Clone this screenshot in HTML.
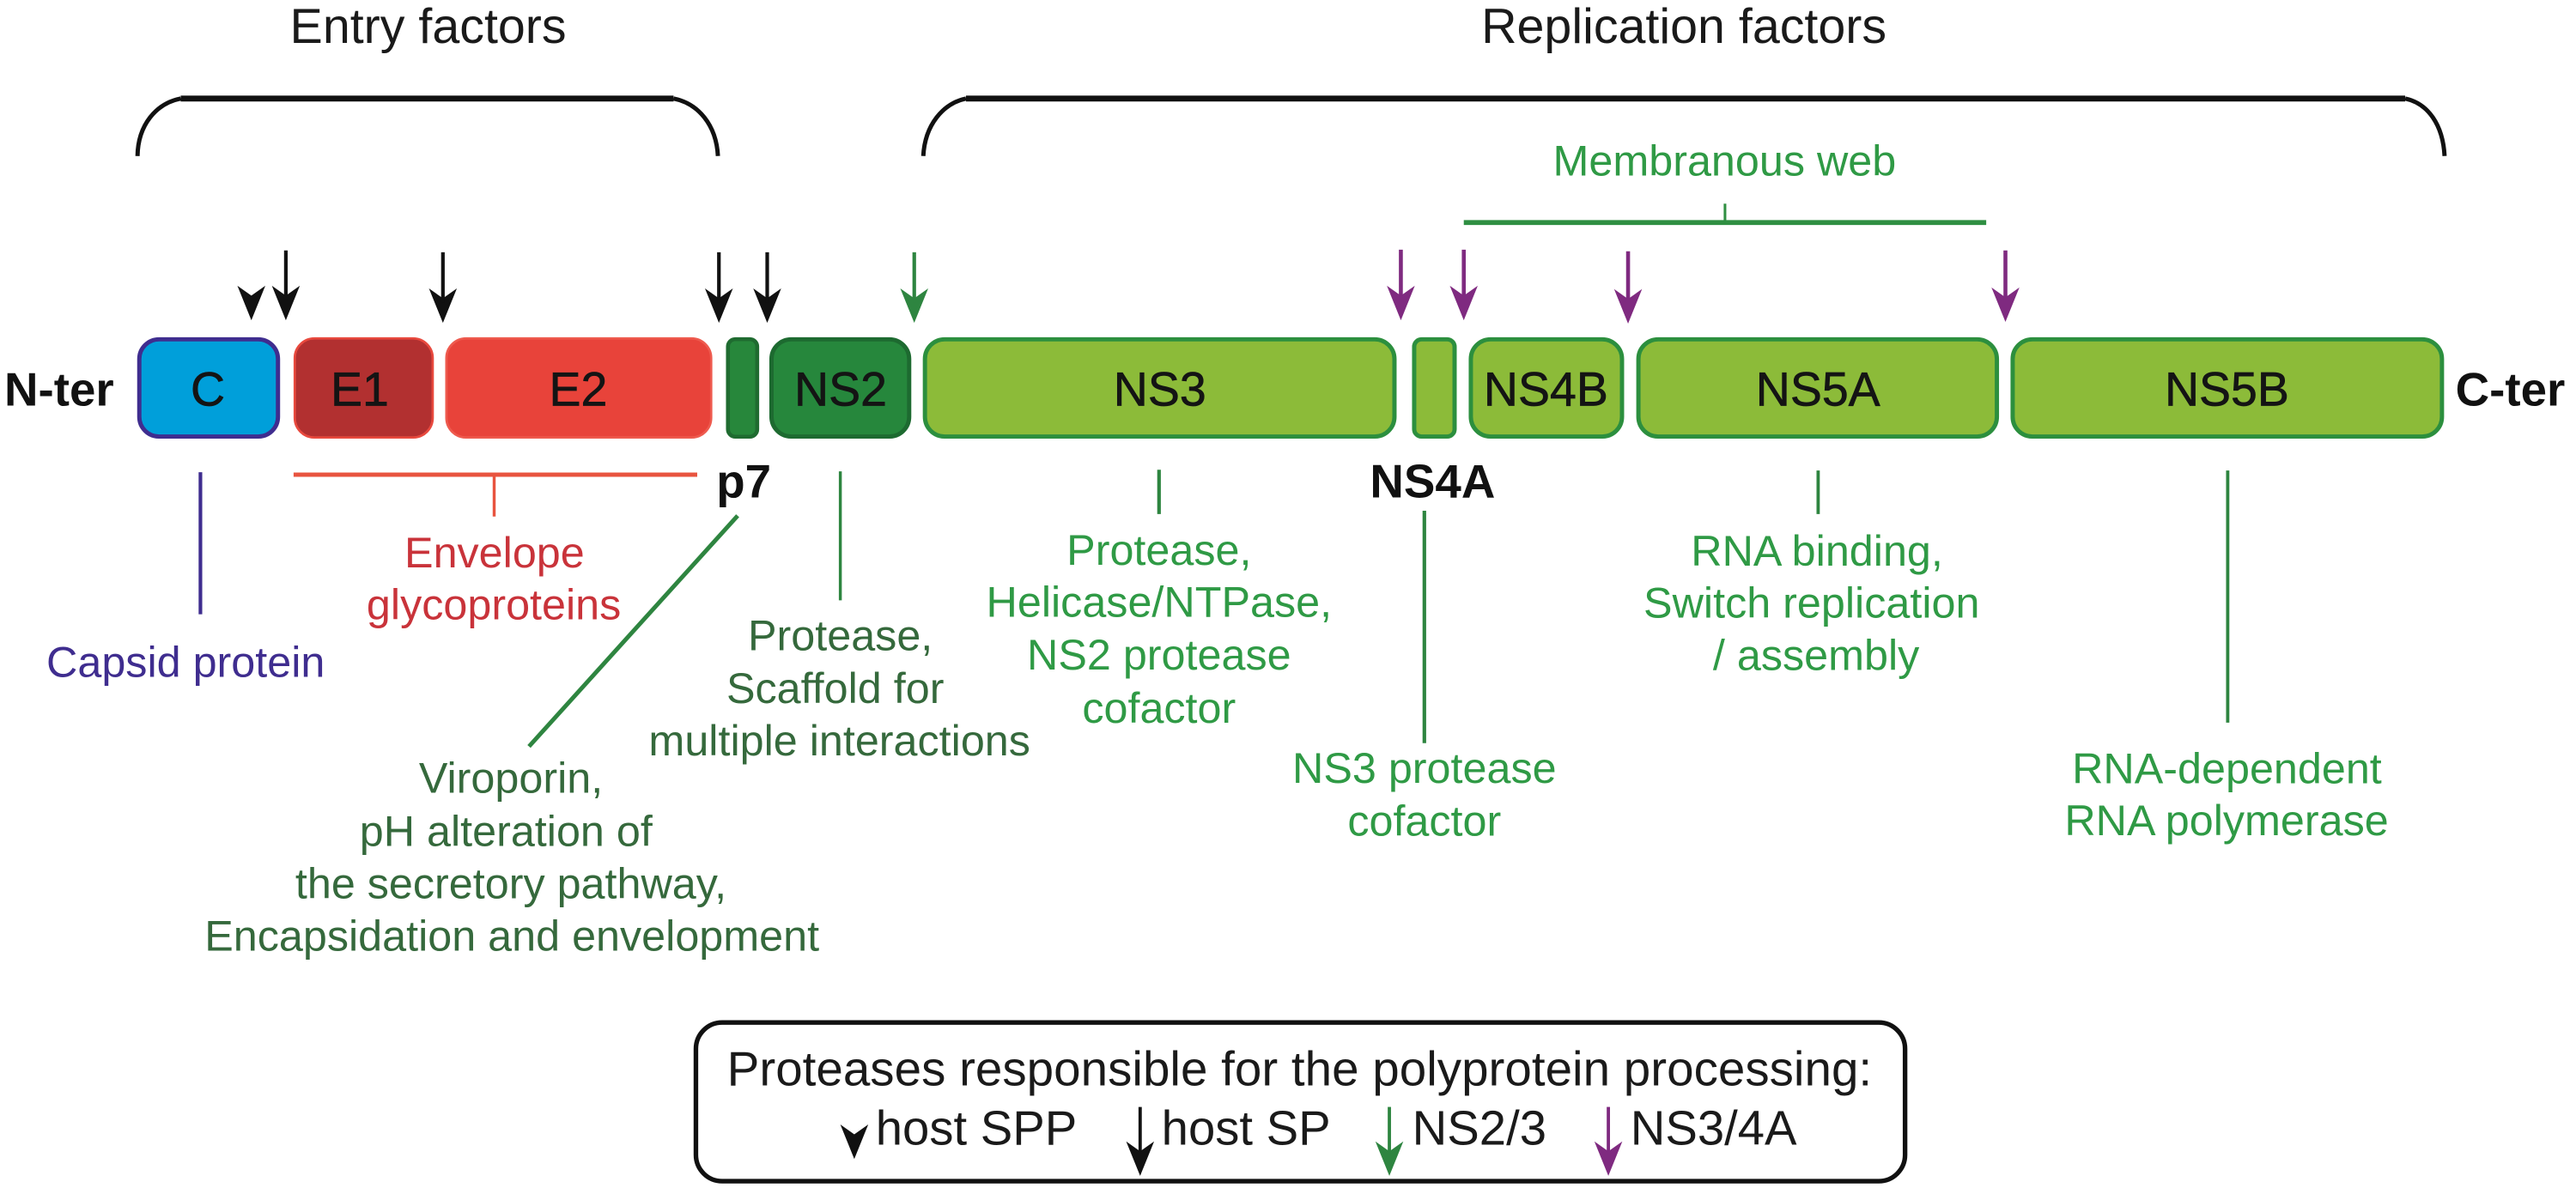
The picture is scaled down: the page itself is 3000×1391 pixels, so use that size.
<!DOCTYPE html>
<html><head><meta charset="utf-8"><style>
html,body{margin:0;padding:0;background:#fff}
svg{display:block}
text{font-family:"Liberation Sans",Arial,sans-serif;font-size:26.3px;text-anchor:middle}
.t{font-size:30px;fill:#1a1a1a}
.x{font-size:29px;fill:#141414;stroke:#141414;stroke-width:.35px}
.b{font-weight:bold;fill:#111;font-size:28.6px}
.k{fill:#1a1a1a;font-size:29.4px}
.g{fill:#2f9a45}
.d{fill:#35693c}
.r{fill:#c9333a}
</style></head><body>
<svg width="3000" height="1391" viewBox="0 0 1568 727" xmlns="http://www.w3.org/2000/svg">
<defs>
<path id="h" d="M-8.5,-21 L0,-15 L8.5,-21 L0,0 Z"/>
</defs>
<text class="t" x="260.6" y="26">Entry factors</text>
<text class="t" x="1025" y="26">Replication factors</text>
<path d="M110,60 H410 M588,60 H1464" fill="none" stroke="#111" stroke-width="3.6"/>
<path d="M83.7,95 C84,76 95,63 110,60 M410,60 C425,63 436,76 437,95 M562,95 C563,76 574,63 588,60 M1464,60 C1478,63 1487,76 1488,95" fill="none" stroke="#111" stroke-width="2.6"/>

<text class="g" x="1049.7" y="107">Membranous web</text>
<path d="M891,135.5 H1209" stroke="#2f8f42" stroke-width="3" fill="none"/>
<path d="M1050,124 V135" stroke="#2f8f42" stroke-width="1.6" fill="none"/>

<!-- arrows -->
<g fill="#111" stroke="none">
<use href="#h" x="153" y="195"/>
<use href="#h" x="174" y="195"/>
<use href="#h" x="269.6" y="196.6"/>
<use href="#h" x="437.6" y="196.6"/>
<use href="#h" x="467" y="196.6"/>
<path d="M174,152.5 V182 M269.6,153.6 V184 M437.6,153.6 V184 M467,153.6 V184" stroke="#111" stroke-width="2.2"/>
</g>
<g fill="#2e8540">
<use href="#h" x="556.5" y="196.6"/>
<path d="M556.5,153.6 V184" stroke="#2e8540" stroke-width="2.2"/>
</g>
<g fill="#7f2a80">
<use href="#h" x="852.7" y="195"/>
<use href="#h" x="891" y="195"/>
<use href="#h" x="991" y="197"/>
<use href="#h" x="1220.7" y="196"/>
<path d="M852.7,152 V182 M891,152 V182 M991,153 V184 M1220.7,152.5 V183" stroke="#7f2a80" stroke-width="2.4"/>
</g>

<!-- boxes -->
<rect x="84.8" y="206.6" width="84.4" height="59.2" rx="12" fill="#009fda" stroke="#3f2d8f" stroke-width="2.6"/>
<rect x="179.4" y="206" width="84" height="60.4" rx="12" fill="#b23030" stroke="#e8493e" stroke-width="1.4"/>
<rect x="271.7" y="206" width="161.2" height="60.4" rx="12" fill="#e8433a" stroke="#ee5a4e" stroke-width="1.4"/>
<rect x="443.1" y="206.5" width="17.8" height="59.4" rx="4.5" fill="#27873b" stroke="#1f6b30" stroke-width="2.4"/>
<rect x="469.6" y="206.6" width="83.8" height="59.2" rx="12" fill="#26873c" stroke="#1d6a30" stroke-width="2.6"/>
<g fill="#8cbb39" stroke="#2c8f3e" stroke-width="2.6">
<rect x="563" y="206.6" width="285.8" height="59.2" rx="12"/>
<rect x="860.8" y="206.6" width="24.6" height="59.2" rx="4.5"/>
<rect x="895.3" y="206.6" width="92" height="59.2" rx="12"/>
<rect x="997.3" y="206.6" width="218.2" height="59.2" rx="12"/>
<rect x="1225.1" y="206.6" width="261.3" height="59.2" rx="12"/>
</g>
<text class="b" x="36" y="247">N-ter</text>
<text class="b" x="1528" y="247">C-ter</text>
<text class="x" x="126.5" y="247">C</text>
<text class="x" x="219" y="247">E1</text>
<text class="x" x="352" y="247">E2</text>
<text class="x" x="511.7" y="247">NS2</text>
<text class="x" x="706" y="247">NS3</text>
<text class="x" x="941" y="247">NS4B</text>
<text class="x" x="1106.6" y="247">NS5A</text>
<text class="x" x="1355.5" y="247">NS5B</text>
<text class="b" x="452.7" y="303">p7</text>
<text class="b" x="872" y="303">NS4A</text>

<!-- connectors -->
<path d="M122,287.5 V374" stroke="#3f2d8f" stroke-width="2.2"/>
<path d="M178.7,289 H424.4" stroke="#e8543f" stroke-width="2.6"/>
<path d="M300.8,289 V314.5" stroke="#e8543f" stroke-width="1.8"/>
<path d="M449,314 L322,454.5" stroke="#2e8540" stroke-width="2.6"/>
<path d="M511.5,287 V365.5" stroke="#2e8540" stroke-width="1.8"/>
<path d="M705.5,286 V313" stroke="#2e8540" stroke-width="2.2"/>
<path d="M867,311 V452.5" stroke="#2e8540" stroke-width="2.2"/>
<path d="M1106.7,286.5 V313" stroke="#2e8540" stroke-width="2"/>
<path d="M1356,286.5 V440" stroke="#2e8540" stroke-width="2"/>

<!-- labels -->
<text style="fill:#3f2d8f" x="113" y="412">Capsid protein</text>
<text class="r" x="301" y="345.5">Envelope</text>
<text class="r" x="300.6" y="377">glycoproteins</text>
<text class="d" x="511.5" y="396">Protease,</text>
<text class="d" x="508.4" y="428">Scaffold for</text>
<text class="d" x="511" y="460">multiple interactions</text>
<text class="d" x="311" y="482.8">Viroporin,</text>
<text class="d" x="308" y="515">pH alteration of</text>
<text class="d" x="311" y="547">the secretory pathway,</text>
<text class="d" x="311.6" y="578.8">Encapsidation and envelopment</text>
<text class="g" x="705.5" y="343.8">Protease,</text>
<text class="g" x="705.5" y="375.6">Helicase/NTPase,</text>
<text class="g" x="705.5" y="407.7">NS2 protease</text>
<text class="g" x="705.5" y="440">cofactor</text>
<text class="g" x="867" y="476.6">NS3 protease</text>
<text class="g" x="867" y="508.7">cofactor</text>
<text class="g" x="1106" y="344.5">RNA binding,</text>
<text class="g" x="1102.7" y="376">Switch replication</text>
<text class="g" x="1105.5" y="408">/ assembly</text>
<text class="g" x="1355.5" y="477">RNA-dependent</text>
<text class="g" x="1355.3" y="508.6">RNA polymerase</text>

<!-- legend -->
<rect x="423.6" y="622.6" width="736" height="96.6" rx="16" fill="#fff" stroke="#111" stroke-width="2.8"/>
<text class="k" x="791" y="661" textLength="697" lengthAdjust="spacingAndGlyphs">Proteases responsible for the polyprotein processing:</text>
<text class="k" x="533" y="697" style="text-anchor:start">host SPP</text>
<text class="k" x="707" y="697" style="text-anchor:start">host SP</text>
<text class="k" x="859.6" y="697" style="text-anchor:start">NS2/3</text>
<text class="k" x="992.4" y="697" style="text-anchor:start">NS3/4A</text>
<use href="#h" x="520" y="705.7" fill="#111"/>
<path d="M694,674 V704" stroke="#111" stroke-width="2"/>
<use href="#h" x="694" y="716" fill="#111"/>
<path d="M845.7,674 V704" stroke="#2e8540" stroke-width="2"/>
<use href="#h" x="845.7" y="716" fill="#2e8540"/>
<path d="M979,674 V704" stroke="#7f2a80" stroke-width="2"/>
<use href="#h" x="979" y="716" fill="#7f2a80"/>
</svg>
</body></html>
